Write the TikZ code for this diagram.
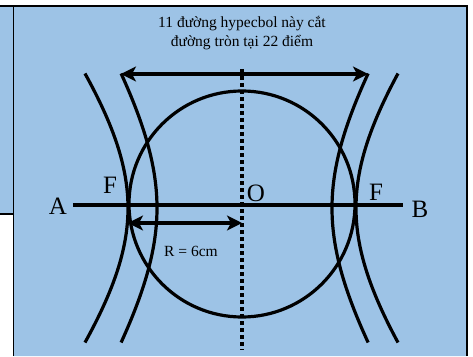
\documentclass[tikz,border=0pt]{standalone}
\usepackage{fontspec}
\setmainfont{Liberation Serif}
\usetikzlibrary{arrows.meta}
\definecolor{paneblue}{HTML}{9DC3E6}

\begin{document}
\begin{tikzpicture}[
		x=1pt, y=1pt,
		curve/.style={line width=3.2pt},
		axis/.style={line width=3.2pt},
		dotaxis/.style={line width=3.2pt, dash pattern=on 4pt off 3pt},
		dimarrow/.style={{Stealth[length=15pt,width=15pt,inset=4pt]}-{Stealth[length=15pt,width=15pt,inset=4pt]}, line width=3.2pt},
		letter/.style={font=\fontsize{25}{30}\selectfont, anchor=base, inner sep=0pt},
		dimlabel/.style={font=\fontsize{15.5}{18}\selectfont, anchor=base, inner sep=0pt},
		note/.style={font=\fontsize{15.5}{19}\selectfont, align=center, inner sep=0pt},
		frame/.style={line width=2pt},
		thinframe/.style={line width=1.2pt}
		]
		% Panel background and borders
		\useasboundingbox (-242,-152) rectangle (231,204);
		\fill[paneblue] (-242,198) -- (225,198) -- (225,-152) -- (-228.5,-152) -- (-228.5,-10) -- (-242,-10) -- cycle;
		\draw[frame] (-242,198) -- (225,198) -- (225,-152);
		\draw[thinframe] (-228.5,198) -- (-228.5,-152);
		\draw[thinframe] (-242,-10) -- (-228.5,-10);

		% Centre, axis end points and arrow ends
		\coordinate (O) at (0,0);
		\coordinate (Aend) at (-169,-1);
		\coordinate (Bend) at (161,-1);
		\coordinate (dtop) at (0,135);
		\coordinate (dbot) at (0,-146);
		\coordinate (htl) at (-121,130);
		\coordinate (htr) at (126,130);
		\coordinate (rleft) at (-114,-19);
		\coordinate (rcentre) at (0,-19);

		% Circle
		\draw[curve] (O) circle (113);

		% Hyperbolas
		\foreach \a/\b in {-114/142, -85/133, 90/137, 114/144}
			\draw[curve] plot[domain=-134.5:134.5, samples=60] ({\a*sqrt(1+(\x/\b)*(\x/\b))}, {\x-4});

		% Axes
		\draw[axis] (Aend) -- (Bend);
		\draw[dotaxis] (dtop) -- (dbot);

		% Arrows
		\draw[dimarrow] (htl) -- (htr);
		\draw[dimarrow] (rleft) -- (rcentre);

		% Labels
		\node[letter] (A) at (-184,-10) {A};
		\node[letter] (B) at (178,-13) {B};
		\node[letter] (F1) at (-132,11) {F};
		\node[letter] (F2) at (134,4) {F};
		\node[letter] (Olab) at (14,3) {O};
		\node[dimlabel] (R) at (-51,-52) {R = 6cm};
		\node[note] (title) at (0,171) {11 đường hypecbol này cắt\\đường tròn tại 22 điểm};

	\end{tikzpicture}
\end{document}
